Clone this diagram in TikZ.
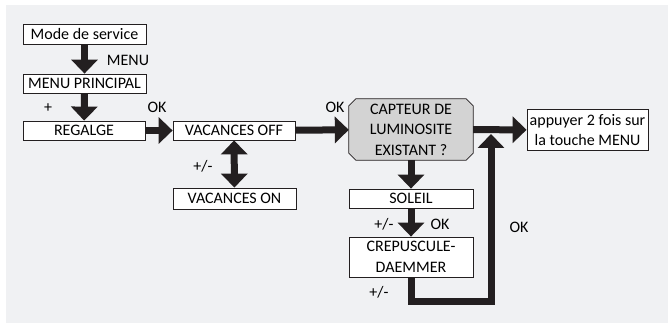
\documentclass[tikz,border=0pt]{standalone}
\usepackage{fontspec}
\setmainfont{Carlito}
\usetikzlibrary{arrows.meta,backgrounds}
\definecolor{bggray}{HTML}{F0F1F3}
\definecolor{askgray}{HTML}{D3D3D3}
\definecolor{ink}{HTML}{231F20}
\begin{document}
\begin{tikzpicture}[x=1pt,y=-1pt,
  font=\fontsize{16}{20.5}\selectfont,
  >={Triangle[width=26pt,length=14pt]},
  box/.style={draw=ink,line width=0.8pt,fill=white,inner sep=0pt,align=center},
  askbox/.style={inner sep=0pt,align=center},
  bigarrow/.style={draw=ink,line width=7pt,->},
  dblarrow/.style={draw=ink,line width=7pt,<->},
  lbl/.style={inner sep=0pt}]
\useasboundingbox (0,0) rectangle (668,323);
\node [box,minimum width=123pt,minimum height=20pt] (mds) at (84.5,34) {Mode de service};
\node [box,minimum width=123pt,minimum height=19pt] (mp) at (84.5,83.5) {MENU PRINCIPAL};
\node [box,minimum width=122pt,minimum height=19pt] (reg) at (84,130.5) {REGALGE};
\node [box,minimum width=122pt,minimum height=19pt] (voff) at (234,130.5) {VACANCES OFF};
\node [box,minimum width=123pt,minimum height=21pt] (von) at (234.5,198.5) {VACANCES ON};
\node [askbox,minimum width=124pt,minimum height=61pt] (capt) at (411,129.5) {CAPTEUR DE\\LUMINOSITE\\EXISTANT ?};
\node [box,minimum width=124pt,minimum height=19pt] (sol) at (411,198.5) {SOLEIL};
\node [box,minimum width=124pt,minimum height=40pt] (crep) at (411,257) {CREPUSCULE-\\DAEMMER};
\node [box,minimum width=121pt,minimum height=41pt] (app) at (587.5,130) {appuyer 2 fois sur\\la touche MENU};
\node [lbl] (menu) at (128,60) {MENU};
\node [lbl] (plus) at (48,108) {+};
\node [lbl] (okreg) at (157,107) {OK};
\node [lbl] (pmvac) at (203,166) {+/-};
\node [lbl] (okcapt) at (335,107) {OK};
\node [lbl] (pmsol) at (384,224) {+/-};
\node [lbl] (oksol) at (440,224) {OK};
\node [lbl] (pmcrep) at (379,292) {+/-};
\node [lbl] (okloop) at (519,227) {OK};
\coordinate (loop) at (491,301);
\coordinate (meet) at (491,134);
\begin{scope}[on background layer]
\fill [bggray] (6,5) rectangle (668,323);
\filldraw [fill=askgray,draw=ink,line width=0.8pt] ([xshift=7pt]capt.north west) -- ([xshift=-7pt]capt.north east) -- ([yshift=-7pt]capt.north east) -- ([yshift=7pt]capt.south east) -- ([xshift=-7pt]capt.south east) -- ([xshift=7pt]capt.south west) -- ([yshift=7pt]capt.south west) -- ([yshift=-7pt]capt.north west) -- cycle;
\end{scope}
\draw [bigarrow] (mds) -- (mp);
\draw [bigarrow] (mp) -- (reg);
\draw [bigarrow] (reg) -- (voff);
\draw [bigarrow] (voff) -- (capt);
\draw [dblarrow] (voff) -- (von);
\draw [bigarrow] (capt) -- (app);
\draw [bigarrow] (capt) -- (sol);
\draw [bigarrow] (sol) -- (crep);
\draw [bigarrow] (crep.south) |- (loop) -- (meet);
\end{tikzpicture}
\end{document}
